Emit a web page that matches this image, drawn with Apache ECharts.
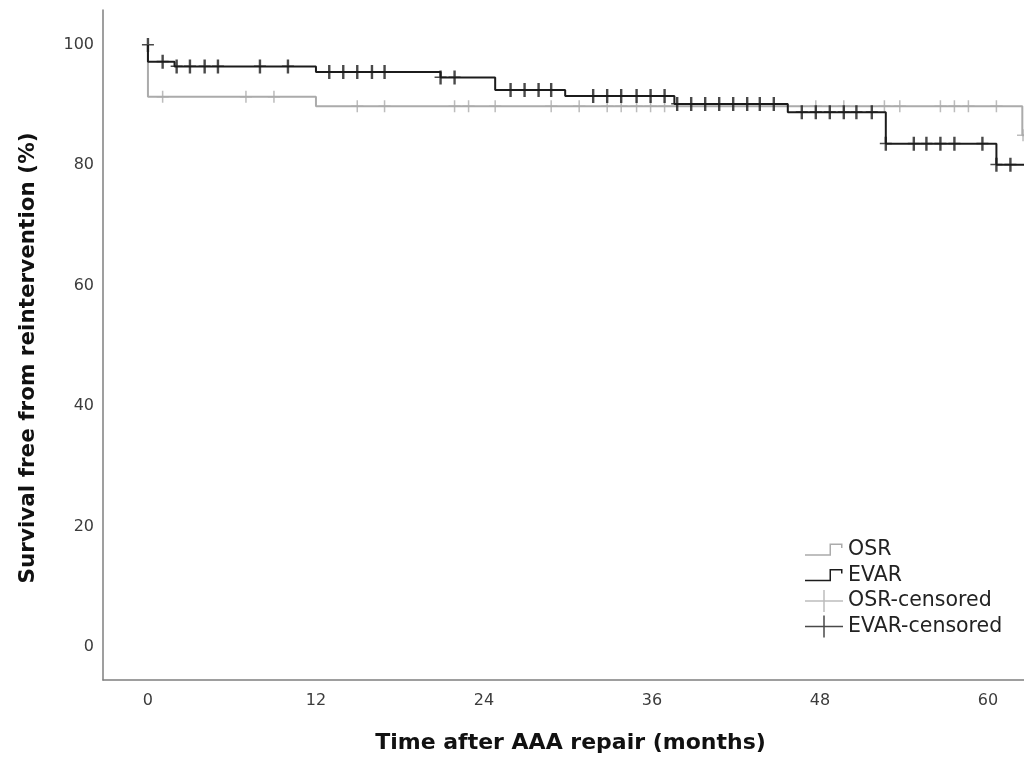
<!DOCTYPE html>
<html>
<head>
<meta charset="utf-8">
<script src="https://cdn.jsdelivr.net/npm/echarts@6/dist/echarts.min.js"></script>
<style>
html,body{margin:0;padding:0;background:#fff;}
#chart{width:1024px;height:762px;}
</style>
</head>
<body>
<div id="chart"></div>
<script>
// ---- data ----
var xTicks = [0, 12, 24, 36, 48, 60];
var yTicks = [0, 20, 40, 60, 80, 100];

// Kaplan-Meier step points: time (months), survival (%)
var osrTimes = [0, 0, 12, 62.45, 63];
var osrSurv  = [100, 91.4, 89.8, 85.0, 85.0];

var evarTimes = [0, 0, 1.9, 12, 20.9, 24.8, 29.8, 37.6, 45.7, 52.7, 60.6, 63];
var evarSurv  = [100, 97.2, 96.4, 95.5, 94.6, 92.5, 91.5, 90.2, 88.8, 83.6, 80.1, 80.1];

// censored observations
var osrCensTimes = [1.05, 7.0, 9.0, 14.95, 16.9, 21.9, 22.9, 24.8, 28.8, 30.8, 32.8, 33.8, 34.9, 35.9, 36.9, 47.7, 49.7, 52.6, 53.7, 56.6, 57.6, 58.6, 60.6, 62.5];
var osrCensSurv  = [91.4, 91.4, 91.4, 89.8, 89.8, 89.8, 89.8, 89.8, 89.8, 89.8, 89.8, 89.8, 89.8, 89.8, 89.8, 89.8, 89.8, 89.8, 89.8, 89.8, 89.8, 89.8, 89.8, 85.0];

var evarCensTimes = [0, 1.05, 2.05, 3.0, 4.05, 5.0, 8.0, 10.0, 12.95, 13.95, 14.95, 16.0, 16.9, 20.9, 21.9, 25.9, 26.9, 27.9, 28.8, 31.8, 32.8, 33.8, 34.9, 35.9, 36.9, 37.8, 38.8, 39.8, 40.8, 41.8, 42.8, 43.7, 44.7, 46.7, 47.7, 48.7, 49.7, 50.6, 51.7, 52.7, 54.7, 55.6, 56.6, 57.6, 59.6, 60.6, 61.6];
var evarCensSurv  = [100, 97.2, 96.4, 96.4, 96.4, 96.4, 96.4, 96.4, 95.5, 95.5, 95.5, 95.5, 95.5, 94.6, 94.6, 92.5, 92.5, 92.5, 92.5, 91.5, 91.5, 91.5, 91.5, 91.5, 91.5, 90.2, 90.2, 90.2, 90.2, 90.2, 90.2, 90.2, 90.2, 88.8, 88.8, 88.8, 88.8, 88.8, 88.8, 83.6, 83.6, 83.6, 83.6, 83.6, 83.6, 80.1, 80.1];

function pairs(xs, ys) { return xs.map(function (x, i) { return [x, ys[i]]; }); }

var GREY = '#ababab';
var BLACK = '#1c1c1c';

var plusGrey = 'path://M5.25,0H6.75V5.25H12V6.75H6.75V12H5.25V6.75H0V5.25H5.25Z';
var plusBlack = 'path://M5,0H7V6H11V7.5H7V14H5V7.5H1V6H5Z';

// legend icons (38 x 22 box; tiny corner specks fix the bounding box)
var speck = 'M0,0h0.01v0.01h-0.01ZM38,22h-0.01v-0.01h0.01Z';
var stepIcon = 'path://' + speck + 'M0,15.25H24.5V4.5H37.5V9H36V6H26V16.75H0Z';
var censIcon = 'path://' + speck + 'M0,10.25H18.25V0H19.75V10.25H38V11.75H19.75V22H18.25V11.75H0Z';

var chart = echarts.init(document.getElementById('chart'), null, {renderer: 'canvas'});
chart.setOption({
  backgroundColor: '#ffffff',
  animation: false,
  grid: {left: 103, top: 10, right: 0, bottom: 82, containLabel: false},
  xAxis: {
    type: 'value', min: -3.21, max: 62.57,
    name: 'Time after AAA repair (months)',
    nameLocation: 'middle', nameGap: 52,
    nameTextStyle: {fontFamily: 'DejaVu Sans', fontWeight: 'bold', fontSize: 22, color: '#111', padding: [0, 0, 0, 14]},
    axisLine: {show: true, onZero: false, lineStyle: {color: '#7f7f7f', width: 1.5}},
    axisTick: {show: false},
    splitLine: {show: false},
    axisLabel: {customValues: xTicks, margin: 13, fontFamily: 'DejaVu Sans', fontSize: 16, color: '#3c3c3c'}
  },
  yAxis: {
    type: 'value', min: -5.5, max: 105.8,
    name: 'Survival free from reintervention (%)',
    nameLocation: 'middle', nameGap: 64,
    nameTextStyle: {fontFamily: 'DejaVu Sans', fontWeight: 'bold', fontSize: 21.5, color: '#111', padding: [0, 26, 0, 0]},
    axisLine: {show: true, onZero: false, lineStyle: {color: '#7f7f7f', width: 1.5}},
    axisTick: {show: false},
    splitLine: {show: false},
    axisLabel: {customValues: yTicks, margin: 9, fontFamily: 'DejaVu Sans', fontSize: 16, color: '#3c3c3c'}
  },
  legend: {
    orient: 'vertical', left: 800, top: 534,
    itemWidth: 38, itemHeight: 22, itemGap: 3.5,
    textStyle: {fontFamily: 'DejaVu Sans', fontSize: 20.5, color: '#222'},
    data: [
      {name: 'OSR', icon: stepIcon, itemStyle: {color: GREY}},
      {name: 'EVAR', icon: stepIcon, itemStyle: {color: BLACK}},
      {name: 'OSR-censored', icon: censIcon, itemStyle: {color: GREY}},
      {name: 'EVAR-censored', icon: censIcon, itemStyle: {color: BLACK}}
    ]
  },
  series: [
    {name: 'OSR', type: 'line', step: 'end', data: pairs(osrTimes, osrSurv),
      showSymbol: false, symbol: 'none', lineStyle: {color: GREY, width: 2}, itemStyle: {color: GREY}, z: 2},
    {name: 'OSR-censored', type: 'scatter', data: pairs(osrCensTimes, osrCensSurv),
      symbol: plusGrey, symbolSize: [12, 12], itemStyle: {color: GREY}, z: 3},
    {name: 'EVAR', type: 'line', step: 'end', data: pairs(evarTimes, evarSurv),
      showSymbol: false, symbol: 'none', lineStyle: {color: BLACK, width: 2}, itemStyle: {color: BLACK}, z: 4},
    {name: 'EVAR-censored', type: 'scatter', data: pairs(evarCensTimes, evarCensSurv),
      symbol: plusBlack, symbolSize: [12, 14], itemStyle: {color: BLACK}, z: 5}
  ]
});
</script>
</body>
</html>
